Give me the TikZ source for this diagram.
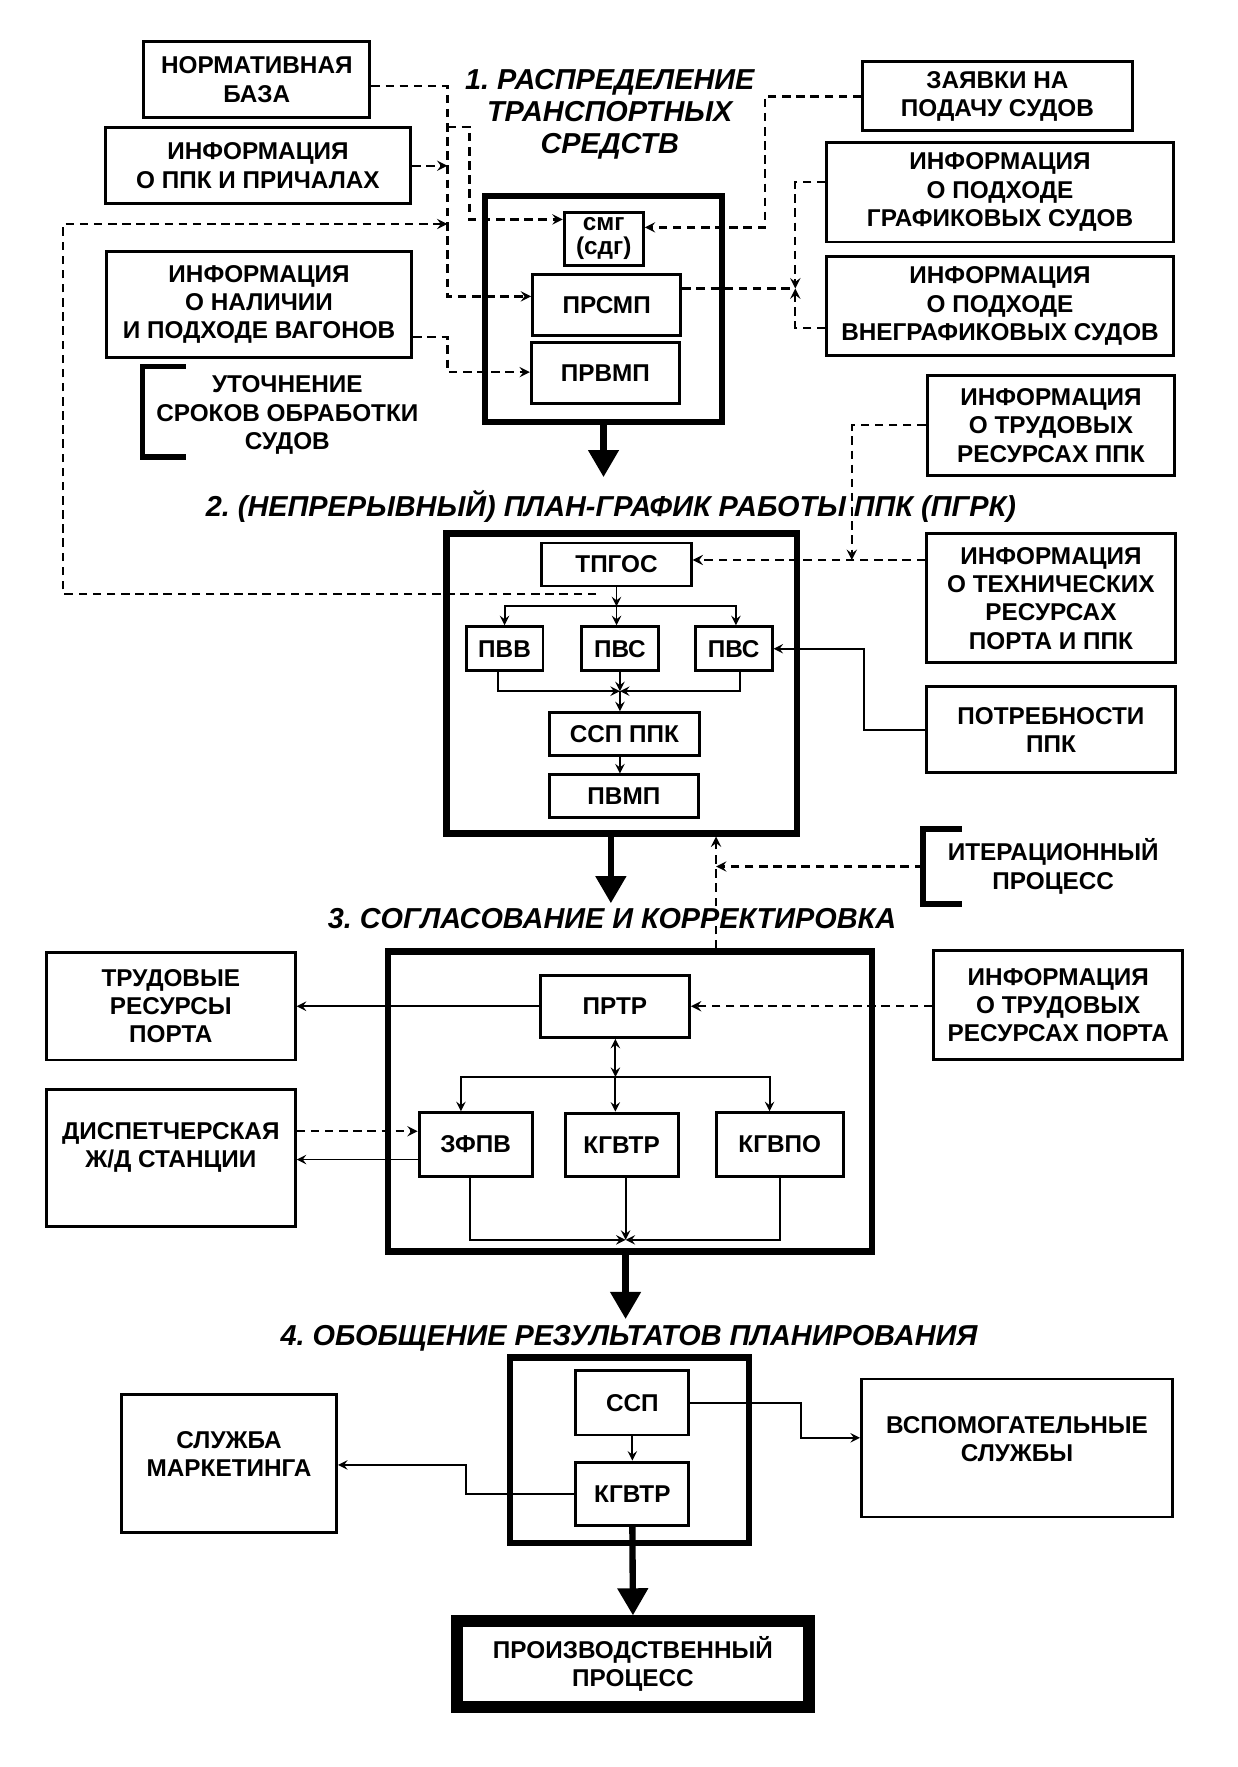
\documentclass[tikz,border=0pt]{standalone}
\usepackage{fontspec}
\setmainfont{Liberation Sans}
\usetikzlibrary{arrows.meta}
\frenchspacing
\begin{document}
\begin{tikzpicture}[x=0.5pt,y=-0.5pt,
	box/.style={draw,line width=1.3pt,align=center,inner sep=0pt,font=\bfseries\fontsize{10.75}{12.5}\selectfont},
	secbox/.style={draw,line width=2.8pt,inner sep=0pt},
	txt/.style={align=center,inner sep=0pt,font=\bfseries\fontsize{10.75}{12.5}\selectfont},
	ttl/.style={align=center,inner sep=0pt,font=\bfseries\itshape\fontsize{12.75}{14.25}\selectfont},
	sz/.style 2 args={minimum width=#1*0.5pt,minimum height=#2*0.5pt},
	dline/.style={line width=1pt,dash pattern=on 3.75pt off 2.5pt},
	tline/.style={line width=0.85pt},
	bigarrow/.style={line width=2.8pt,-{Triangle[width=13pt,length=12pt]}},
	brk/.style={line width=2.5pt}]
			\useasboundingbox (0,0) rectangle (1094,1562);
			\node[ttl] (title1) at (539,101) {1. РАСПРЕДЕЛЕНИЕ\\ТРАНСПОРТНЫХ\\СРЕДСТВ};
			\node[secbox,sz={209}{200}] (sec1) at (533.5,273) {};
			\node[box,sz={200}{67}] (norm) at (227,70.5) {НОРМАТИВНАЯ\\БАЗА};
			\node[box,sz={270}{67}] (infoppk) at (228,146.5) {ИНФОРМАЦИЯ\\О ППК И ПРИЧАЛАХ};
			\node[box,sz={270}{94}] (infovag) at (229,269) {ИНФОРМАЦИЯ\\О НАЛИЧИИ\\И ПОДХОДЕ ВАГОНОВ};
			\draw[brk] (164,324) -- (126,324) -- (126,404) -- (164,404);
			\node[txt] (utoch) at (254,367) {УТОЧНЕНИЕ\\СРОКОВ ОБРАБОТКИ\\СУДОВ};
			\node[box,font=\bfseries\fontsize{10.75}{10.5}\selectfont,sz={70}{47}] (smg) at (533.7,211) {смг\\(сдг)};
			\node[box,sz={131}{54}] (prsmp) at (536.3,269.7) {ПРСМП};
			\node[box,sz={131}{54}] (prvmp) at (535.2,329.7) {ПРВМП};
			\node[box,sz={238}{61}] (zayavki) at (881.7,85.2) {ЗАЯВКИ НА\\ПОДАЧУ СУДОВ};
			\node[box,sz={306}{88}] (grafik) at (884,169.9) {ИНФОРМАЦИЯ\\О ПОДХОДЕ\\ГРАФИКОВЫХ СУДОВ};
			\node[box,sz={306}{88}] (vnegraf) at (884,270.5) {ИНФОРМАЦИЯ\\О ПОДХОДЕ\\ВНЕГРАФИКОВЫХ СУДОВ};
			\node[box,sz={219}{88}] (trudppk) at (929,376) {ИНФОРМАЦИЯ\\О ТРУДОВЫХ\\РЕСУРСАХ ППК};
			\coordinate (vl) at (395.5,200);
			\coordinate (vr) at (415,112);
			\coordinate (lp) at (527,525);
			\coordinate (jg) at (703,255);
			\draw[dline,-stealth] (norm.east |- 0,76) -| (vl |- 0,262) -- (prsmp.west |- 0,262);
			\draw[dline,-stealth] (vl |- vr) -- (vr) |- (smg.west |- 0,194);
			\draw[dline,-stealth] (infoppk.east) -- (infoppk.east -| vl);
			\draw[dline,-stealth] (lp) -| (56,198) -- (vl |- 0,198);
			\draw[dline,-stealth] (infovag.east |- 0,298) -| (vl |- 0,329) -- (prvmp.west |- 0,329);
			\draw[dline,-stealth] (zayavki.west) -| (676,201) -- (smg.east |- 0,201);
			\draw[dline,-stealth] (grafik.west |- 0,161) -| (jg);
			\draw[dline,-stealth] (vnegraf.west |- 0,290) -| (jg);
			\draw[dline] (prsmp.east |- jg) -- (jg);
			\draw[bigarrow] (sec1.south) -- ++(0,46);
			\node[ttl] (title2) at (540,448) {2. (НЕПРЕРЫВНЫЙ) ПЛАН-ГРАФИК РАБОТЫ ППК (ПГРК)};
			\node[secbox,sz={310}{265}] (sec2) at (549.6,604.2) {};
			\node[box,sz={132}{38}] (tpgos) at (545,499) {ТПГОС};
			\node[box,sz={68}{39}] (pvv) at (446,573.5) {ПВВ};
			\node[box,sz={68}{39}] (pvs1) at (548,573.5) {ПВС};
			\node[box,sz={68}{39}] (pvs2) at (648.5,573.5) {ПВС};
			\node[box,sz={132}{38}] (sspppk) at (552,649) {ССП ППК};
			\node[box,sz={132}{38}] (pvmp) at (551.5,704) {ПВМП};
			\node[box,sz={220}{114}] (techres) at (929,529) {ИНФОРМАЦИЯ\\О ТЕХНИЧЕСКИХ\\РЕСУРСАХ\\ПОРТА И ППК};
			\node[box,sz={220}{76}] (potr) at (929,645) {ПОТРЕБНОСТИ\\ППК};
			\coordinate (js) at (545,536);
			\coordinate (jm) at (548,611);
			\coordinate (jt) at (753,495);
			\draw[tline,-stealth] (tpgos.south) -- (js);
			\draw[tline,-stealth] (js) -| (pvv.north);
			\draw[tline,-stealth] (js) -- (js |- pvs1.north);
			\draw[tline,-stealth] (js) -| ([xshift=1pt]pvs2.north);
			\draw[tline,-stealth] ([xshift=-3pt]pvv.south) |- (jm);
			\draw[tline,-stealth] ([xshift=3pt]pvs2.south) |- (jm);
			\draw[tline,-stealth] (pvs1.south) -- (jm);
			\draw[tline,-stealth] (jm) -- (jm |- sspppk.north);
			\draw[tline,-stealth] (sspppk.south -| jm) -- (pvmp.north -| jm);
			\draw[dline,-stealth] (trudppk.west) -| (jt);
			\draw[dline,-stealth] (techres.west |- jt) -- (tpgos.east |- jt);
			\draw[tline,-stealth] (potr.west) -- ++(-54,0) |- (pvs2.east);
			\draw[bigarrow] (sec2.south -| 540,0) -- ++(0,59);
			\draw[brk] (850,733) -- (816,733) -- (816,799) -- (850,799);
			\node[txt] (iter) at (931,766) {ИТЕРАЦИОННЫЙ\\ПРОЦЕСС};
			\coordinate (ib) at (816,766);
			\coordinate (iv) at (633,766);
			\node[ttl] (title3) at (541,812) {3. СОГЛАСОВАНИЕ И КОРРЕКТИРОВКА};
			\node[secbox,sz={428}{265}] (sec3) at (556.9,973.7) {};
			\draw[dline,-stealth] (ib) -- (iv);
			\draw[dline,-stealth] (sec3.north -| iv) -- (sec2.south -| iv);
			\node[box,sz={132}{55}] (prtr) at (543.5,889.5) {ПРТР};
			\node[box,sz={100}{56}] (zfpv) at (420.5,1011.6) {ЗФПВ};
			\node[box,sz={100}{56}] (kgvtr) at (549.5,1012) {КГВТР};
			\node[box,sz={112}{56}] (kgvpo) at (689.3,1011.6) {КГВПО};
			\node[box,sz={220}{95}] (trudport) at (151,889.5) {ТРУДОВЫЕ\\РЕСУРСЫ\\ПОРТА};
			\node[box,sz={220}{121}] (disp) at (151,1023.5) {};
			\node[txt] (disptxt) at (151,1014.5) {ДИСПЕТЧЕРСКАЯ\\Ж/Д СТАНЦИИ};
			\node[box,sz={220}{96}] (infotrud) at (935.5,888.5) {ИНФОРМАЦИЯ\\О ТРУДОВЫХ\\РЕСУРСАХ ПОРТА};
			\coordinate (jr) at (544,952);
			\coordinate (jk) at (553,1096);
			\draw[tline,-stealth] (prtr.west) -- (prtr.west -| trudport.east);
			\draw[dline,-stealth] (infotrud.west |- prtr.east) -- (prtr.east);
			\draw[tline,stealth-stealth] (prtr.south -| jr) -- (jr);
			\draw[tline,-stealth] (jr) -| ([xshift=-6.5pt]zfpv.north);
			\draw[tline,-stealth] (jr) -- (jr |- kgvtr.north);
			\draw[tline,-stealth] (jr) -| ([xshift=-4.5pt]kgvpo.north);
			\draw[tline,-stealth] ([xshift=-2.5pt]zfpv.south) |- (jk);
			\draw[tline,-stealth] (kgvtr.south -| jk) -- (jk);
			\draw[tline,-stealth] (kgvpo.south) |- (jk);
			\draw[dline,-stealth] (disp.east |- 0,1000) -- (zfpv.west |- 0,1000);
			\draw[tline,-stealth] (zfpv.west |- 0,1025) -- (disp.east |- 0,1025);
			\draw[bigarrow] (sec3.south -| jk) -- ++(0,57);
			\node[ttl] (title4) at (556,1183) {4. ОБОБЩЕНИЕ РЕЗУЛЬТАТОВ ПЛАНИРОВАНИЯ};
			\node[secbox,sz={211}{164}] (sec4) at (556.5,1282) {};
			\node[box,sz={100}{57}] (ssp) at (559,1240) {ССП};
			\node[box,sz={100}{56}] (kgvtr2) at (559,1320.5) {КГВТР};
			\node[box,sz={275}{122}] (vspom) at (899,1280) {};
			\node[txt] (vspomtxt) at (899,1272) {ВСПОМОГАТЕЛЬНЫЕ\\СЛУЖБЫ};
			\node[box,sz={190}{122}] (sluzhba) at (202.5,1293.5) {};
			\node[txt] (sluzhbatxt) at (202.5,1285) {СЛУЖБА\\МАРКЕТИНГА};
			\node[box,line width=5pt,sz={311}{76}] (prod) at (559.5,1471) {ПРОИЗВОДСТВЕННЫЙ\\ПРОЦЕСС};
			\draw[tline,-stealth] (ssp.east) -| (708,1271) -- (vspom.west |- 0,1271);
			\draw[tline,-stealth] (kgvtr2.west) -| (412,1295) -- (sluzhba.east |- 0,1295);
			\draw[tline,-stealth] (ssp.south) -- (kgvtr2.north);
			\draw[bigarrow] (kgvtr2.south) -- (prod.north);
\end{tikzpicture}
\end{document}
